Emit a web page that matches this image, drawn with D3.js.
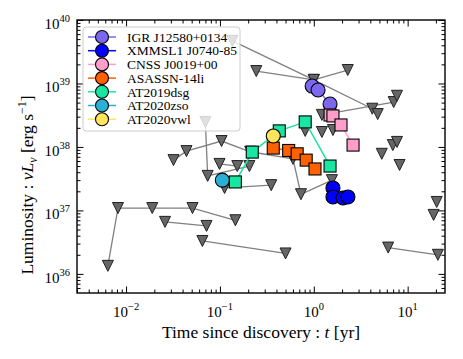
<!DOCTYPE html>
<html>
<head>
<meta charset="utf-8">
<script src="https://cdn.jsdelivr.net/npm/d3@7"></script>
<style>
  body { margin: 0; background: #fff; }
  svg { display: block; font-family: "Liberation Serif", "DejaVu Serif", serif; }
</style>
</head>
<body>
<div id="chart"></div>
<script>
// 1. Data  [t (yr), nuL_nu (erg/s)]

// upper limits, each track joined by a grey line
const limitTracks = [
  [[0.0064, 1.34e36], [0.0082, 1.09e37], [0.019, 1.09e37], [0.051, 1.09e37], [0.146, 7.0e36]],
  [[0.026, 6.6e36], [0.072, 5.7e36]],
  [[0.065, 3.3e36], [0.50, 2.1e36]],
  [[6.2, 2.6e36], [21, 2.0e36]],
  [[0.032, 6.2e37], [0.044, 8.6e37], [0.104, 1.24e38], [0.21, 8.4e37], [0.60, 6.5e37], [0.73, 1.8e37], [1.56, 3.0e37]],
  [[0.136, 4.7e39], [1.0, 1.14e39], [4.2, 4.0e38]],
  [[0.244, 1.57e39], [1.0, 1.14e39], [2.3, 1.63e39]],
  [[1.22, 3.2e38], [7.1, 5.1e38]],
  [[0.070, 2.48e38], [0.074, 3.5e37], [0.206, 5.0e37]],
  [[0.099, 5.4e37], [0.153, 5.0e37]],
  [[0.112, 2.26e37], [0.352, 2.5e37]]
];
const limitSingles = [
  [4.8, 3.3e38], [7.7, 6.4e38], [1.22, 1.72e38], [1.6, 1.85e38], [5.3, 7.8e37],
  [6.95, 1.07e38], [7.7, 1.2e38], [8.2, 5.2e37], [0.81, 1.79e38], [20.4, 1.36e37], [18.9, 8.5e36]
];

const igr = [[0.96, 9.1e38], [1.11, 7.9e38], [1.49, 4.75e38]];
const xmmsl1 = [[1.6, 2.26e37], [1.6, 1.63e37], [2.05, 1.57e37], [2.31, 1.63e37]];
const cnss = [[1.49, 3.19e38], [1.6, 3.08e38], [1.95, 2.22e38], [2.62, 1.07e38]];
const asassn = [[0.37, 9.6e37], [0.54, 8.8e37], [0.665, 7.8e37], [0.83, 6.2e37], [1.03, 4.5e37]];
const at2019dsg = [[0.146, 2.81e37], [0.221, 8.3e37], [0.429, 1.79e38], [0.81, 2.48e38], [1.49, 5.0e37]];
const at2020zso = [[0.106, 3.0e37]];
const at2020vwl = [[0.37, 1.49e38]];

const sourceNames = ["IGR J12580+0134", "XMMSL1 J0740-85", "CNSS J0019+00", "ASASSN-14li",
  "AT2019dsg", "AT2020zso", "AT2020vwl"];
const sourceData = [igr, xmmsl1, cnss, asassn, at2019dsg, at2020zso, at2020vwl];

const xMajorTicks = [1e-2, 1e-1, 1, 10];
const xTickExponents = ["\u22122", "\u22121", "0", "1"];
const yMajorTicks = [1e36, 1e37, 1e38, 1e39, 1e40];
const yTickExponents = ["36", "37", "38", "39", "40"];

// 2. Dimensions & styles
const dimensions = {
  width: 463,
  height: 359,
  margin: { top: 20, right: 18, bottom: 66, left: 77 }
};
dimensions.boundedWidth = dimensions.width - dimensions.margin.left - dimensions.margin.right;
dimensions.boundedHeight = dimensions.height - dimensions.margin.top - dimensions.margin.bottom;

const sourceColors = ["#7b68ee", "#0000ff", "#ff9ecb", "#ff6000", "#19e6a0", "#2ab0d6", "#ffe45c"];
const sourceShapes = ["circle", "circle", "square", "square", "square", "circle", "circle"];

// 3. Canvas
const wrapper = d3.select("#chart").append("svg")
    .attr("width", dimensions.width)
    .attr("height", dimensions.height);

const bounds = wrapper.append("g")
    .attr("transform", `translate(${dimensions.margin.left},${dimensions.margin.top})`);

// 4. Scales
const xScale = d3.scaleLog()
    .domain([3e-3, 25])
    .range([0, dimensions.boundedWidth]);

const yScale = d3.scaleLog()
    .domain([5e35, 1e40])
    .range([dimensions.boundedHeight, 0]);

// 5. Data
const line = d3.line()
    .x(d => xScale(d[0]))
    .y(d => yScale(d[1]));

const tri = "M-5.5,-5.5L5.5,-5.5L0,5.5Z";

const limits = bounds.append("g");
limits.selectAll("path.track")
  .data(limitTracks)
  .join("path")
    .attr("class", "track")
    .attr("d", line)
    .attr("fill", "none")
    .attr("stroke", "#808080")
    .attr("stroke-width", 1.3);

limits.selectAll("path.ul")
  .data(limitTracks.flat().concat(limitSingles))
  .join("path")
    .attr("class", "ul")
    .attr("d", tri)
    .attr("transform", d => `translate(${xScale(d[0])},${yScale(d[1])})`)
    .attr("fill", "#666")
    .attr("stroke", "#222")
    .attr("stroke-width", 1);

sourceData.forEach((data, i) => {
  const g = bounds.append("g");
  g.append("path")
      .attr("d", line(data))
      .attr("fill", "none")
      .attr("stroke", sourceColors[i])
      .attr("stroke-width", 1.5);
  if (sourceShapes[i] === "circle") {
    g.selectAll("circle")
      .data(data)
      .join("circle")
        .attr("cx", d => xScale(d[0]))
        .attr("cy", d => yScale(d[1]))
        .attr("r", 7)
        .attr("fill", sourceColors[i])
        .attr("stroke", "#000")
        .attr("stroke-width", 1.1);
  } else {
    g.selectAll("rect")
      .data(data)
      .join("rect")
        .attr("x", d => xScale(d[0]) - 6)
        .attr("y", d => yScale(d[1]) - 6)
        .attr("width", 12)
        .attr("height", 12)
        .attr("fill", sourceColors[i])
        .attr("stroke", "#000")
        .attr("stroke-width", 1.1);
  }
});

// 6. Peripherals
const xMinor = xScale.ticks().filter(v => !xMajorTicks.includes(v));
const yMinor = yScale.ticks().filter(v => !yMajorTicks.includes(v));

function tickAxis(gen, scale, values, size, transform) {
  const g = bounds.append("g")
      .attr("transform", transform)
      .call(gen(scale).tickValues(values).tickSize(-size).tickFormat(""));
  g.select(".domain").remove();
  g.selectAll(".tick line").attr("stroke", "#000").attr("stroke-width", 1);
}

[[xMajorTicks, 6.5], [xMinor, 3.5]].forEach(([v, s]) => {
  tickAxis(d3.axisBottom, xScale, v, s, `translate(0,${dimensions.boundedHeight})`);
  tickAxis(d3.axisTop, xScale, v, s, "translate(0,0)");
});
[[yMajorTicks, 6.5], [yMinor, 3.5]].forEach(([v, s]) => {
  tickAxis(d3.axisLeft, yScale, v, s, "translate(0,0)");
  tickAxis(d3.axisRight, yScale, v, s, `translate(${dimensions.boundedWidth},0)`);
});

bounds.append("rect")
    .attr("width", dimensions.boundedWidth)
    .attr("height", dimensions.boundedHeight)
    .attr("fill", "none")
    .attr("stroke", "#000")
    .attr("stroke-width", 1.4);

// tick labels
const xLabels = bounds.selectAll("text.xl")
  .data(xMajorTicks)
  .join("text")
    .attr("class", "xl")
    .attr("x", d => xScale(d))
    .attr("y", dimensions.boundedHeight + 24)
    .attr("text-anchor", "middle")
    .style("font-size", "15px");
xLabels.append("tspan").text("10");
xLabels.append("tspan").attr("dy", -7).style("font-size", "10.5px").text((d, i) => xTickExponents[i]);

const yLabels = bounds.selectAll("text.yl")
  .data(yMajorTicks)
  .join("text")
    .attr("class", "yl")
    .attr("x", -7)
    .attr("y", d => yScale(d) + 9)
    .attr("text-anchor", "end")
    .style("font-size", "15px");
yLabels.append("tspan").text("10");
yLabels.append("tspan").attr("dy", -7).style("font-size", "10.5px").text((d, i) => yTickExponents[i]);

// axis titles
const xTitle = wrapper.append("text")
    .attr("x", dimensions.margin.left + dimensions.boundedWidth / 2)
    .attr("y", 338)
    .attr("text-anchor", "middle")
    .style("font-size", "17.5px");
xTitle.append("tspan").text("Time since discovery : ");
xTitle.append("tspan").style("font-style", "italic").text("t");
xTitle.append("tspan").text(" [yr]");

const yTitle = wrapper.append("text")
    .attr("transform", "translate(33,185) rotate(-90)")
    .attr("text-anchor", "middle")
    .style("font-size", "17.5px");
yTitle.append("tspan").text("Luminosity : ");
yTitle.append("tspan").style("font-style", "italic").text("\u03bdL");
yTitle.append("tspan").attr("dy", 4).style("font-style", "italic").style("font-size", "12px").text("\u03bd");
yTitle.append("tspan").attr("dy", -4).text(" [erg s");
yTitle.append("tspan").attr("dy", -7).style("font-size", "12px").text("\u22121");
yTitle.append("tspan").attr("dy", 7).text("]");

// legend
const legend = bounds.append("g").attr("transform", "translate(6,7)");
legend.append("rect")
    .attr("width", 157)
    .attr("height", 104)
    .attr("rx", 3)
    .attr("fill", "#fff")
    .attr("fill-opacity", 0.8)
    .attr("stroke", "#ccc")
    .attr("stroke-width", 1);

const items = legend.selectAll("g.item")
  .data(sourceNames)
  .join("g")
    .attr("class", "item")
    .attr("transform", (d, i) => `translate(0,${10 + i * 13.7})`);
items.append("line")
    .attr("x1", 5).attr("x2", 33)
    .attr("stroke", (d, i) => sourceColors[i])
    .attr("stroke-width", 1.5);
items.append("circle")
    .attr("cx", 19)
    .attr("r", 6.5)
    .attr("fill", (d, i) => sourceColors[i])
    .attr("stroke", "#000")
    .attr("stroke-width", 1.1);
items.append("text")
    .attr("x", 44)
    .attr("dy", "0.35em")
    .style("font-size", "13.5px")
    .text(d => d);
</script>
</body>
</html>
